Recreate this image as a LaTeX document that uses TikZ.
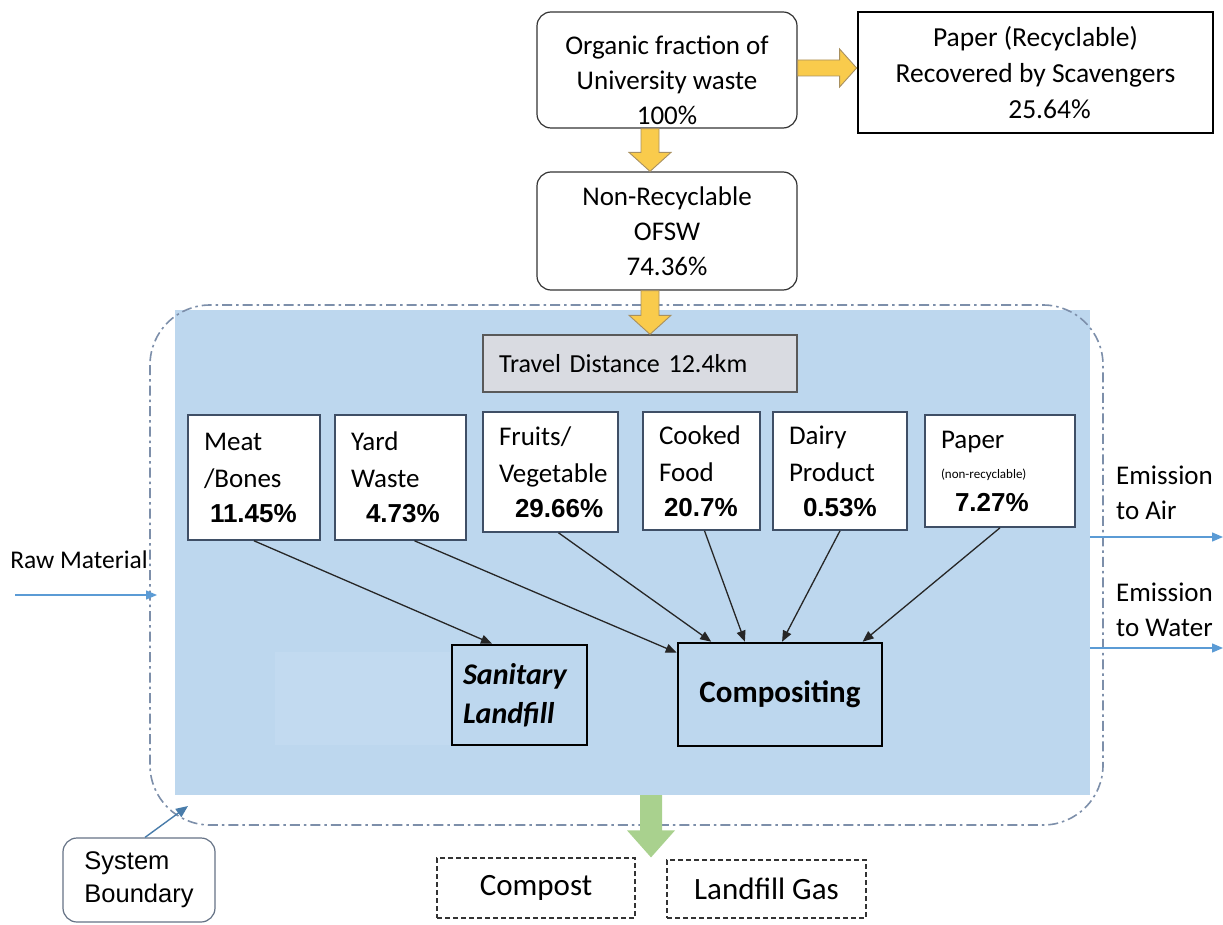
\documentclass[tikz,border=0pt]{standalone}
\usepackage{fontspec}
\setmainfont{Carlito}
\newfontfamily\arialf{Liberation Sans}
\usetikzlibrary{arrows.meta,calc}
\definecolor{zonefill}{HTML}{BDD7EE}
\definecolor{zonepatch}{HTML}{C2DAF0}
\definecolor{catedge}{HTML}{3F4F66}
\definecolor{bounddash}{HTML}{7D8FAA}
\definecolor{flowblue}{HTML}{5B9BD5}
\definecolor{yellowfill}{HTML}{F9CB4C}
\definecolor{yellowedge}{HTML}{A89060}
\definecolor{greenfill}{HTML}{A9D18E}
\definecolor{travelfill}{HTML}{D9DBE1}
\newcommand{\pctfont}{\arialf\bfseries\fontsize{26}{36}\selectfont}
\newcommand{\bodyfont}{\fontsize{27}{35}\selectfont}
\newcommand{\catfont}{\fontsize{27}{37}\selectfont}
\begin{document}
\begin{tikzpicture}[x=1pt,y=-1pt,
  flowbox/.style={draw=black!80, line width=1.2pt, rounded corners=14pt, fill=white,
    align=center, font=\bodyfont, inner sep=0pt},
  catbox/.style={draw=catedge, line width=1.6pt, fill=white, align=left,
    font=\catfont, inner xsep=16pt, inner ysep=0pt},
  procbox/.style={draw=black, line width=2.6pt, align=center, inner sep=0pt},
  outbox/.style={draw=black!80, line width=1.2pt, dashed, dash pattern=on 5pt off 3pt,
    font=\fontsize{31}{36}\selectfont, inner sep=0pt},
  yarrow/.style={fill=yellowfill, draw=yellowedge, line width=0.9pt, line join=miter},
  feed/.style={draw=black!85, line width=1.3pt, -{Triangle[length=11pt,width=9pt]}},
  blueflow/.style={draw=flowblue, line width=1.4pt, -{Triangle[length=11pt,width=9pt]}},
  freetext/.style={font=\bodyfont, align=left, inner sep=0pt}
]
\useasboundingbox (0,0) rectangle (1223,925);

% system zone: shaded area and dash-dot boundary
\fill[zonefill] (175,310) rectangle (1090,795);
\node[minimum width=915pt, minimum height=485pt, inner sep=0pt] (zone) at (632.5,552.5) {};
\fill[zonepatch] (275,652) rectangle (450,745);
\draw[bounddash, line width=1.6pt, dash pattern=on 10pt off 4pt on 2.5pt off 4pt, rounded corners=60pt]
  (150,305) rectangle (1103,825);

% top chain
\node[flowbox, minimum width=260pt, minimum height=116pt] (org) at (667,70)
  {\rule{0pt}{40pt}Organic fraction of\\University waste\\100\%};
\node[draw=black, line width=2.8pt, minimum width=355pt, minimum height=121pt, align=center,
  font=\fontsize{27.5}{36}\selectfont, inner sep=0pt] (paperrec) at (1035.5,72.5)
  {Paper (Recyclable)\\Recovered by Scavengers\\\hspace*{28pt}25.64\%};
\node[flowbox, minimum width=260pt, minimum height=118pt] (nonrec) at (667,231)
  {Non-Recyclable\\OFSW\\74.36\%};
\node[draw=black!65, line width=1.4pt, fill=travelfill, minimum width=314pt, minimum height=57pt,
  font=\fontsize{26}{30}\selectfont, inner xsep=16pt, text width=282pt, align=left] (travel) at (640,363.5)
  {Travel Distance 12.4km};

% yellow block arrows
\path (org.south) ++(-17,0) coordinate (d1s);
\path (nonrec.north) ++(-17,0) coordinate (d1e);
\draw[yarrow] ($(d1s)+(-9,0)$) -- ($(d1e)+(-9,-19)$) -- ($(d1e)+(-21,-19)$) -- (d1e)
  -- ($(d1e)+(21,-19)$) -- ($(d1e)+(9,-19)$) -- ($(d1s)+(9,0)$) -- cycle;
\path (nonrec.south) ++(-17,0) coordinate (d2s);
\path (d2s |- travel.north) coordinate (d2e);
\draw[yarrow] ($(d2s)+(-9,0)$) -- ($(d2e)+(-9,-19)$) -- ($(d2e)+(-21,-19)$) -- (d2e)
  -- ($(d2e)+(21,-19)$) -- ($(d2e)+(9,-19)$) -- ($(d2s)+(9,0)$) -- cycle;
\path (org.east) ++(0,-2) coordinate (r1s);
\path (r1s -| paperrec.west) coordinate (r1e);
\draw[yarrow] ($(r1s)+(0,-8)$) -- ($(r1e)+(-17,-8)$) -- ($(r1e)+(-17,-19)$) -- (r1e)
  -- ($(r1e)+(-17,19)$) -- ($(r1e)+(-17,8)$) -- ($(r1s)+(0,8)$) -- cycle;

% waste categories
\node[catbox, minimum width=132pt, minimum height=125pt, text width=100pt] (meat) at (254,477.5)
  {Meat\\/Bones\\[-2pt]\hspace*{6pt}\pctfont 11.45\%};
\node[catbox, minimum width=131pt, minimum height=125pt, text width=99pt] (yard) at (400.5,477.5)
  {Yard\\Waste\\[-2pt]\hspace*{15pt}\pctfont 4.73\%};
\node[catbox, minimum width=135pt, minimum height=120pt, text width=103pt] (fruit) at (550.5,472)
  {Fruits/\\Vegetable\\[-2pt]\hspace*{16pt}\pctfont 29.66\%};
\node[catbox, minimum width=117pt, minimum height=118pt, text width=85pt] (cooked) at (701.5,471)
  {Cooked\\Food\\[-2pt]\hspace*{5pt}\pctfont 20.7\%};
\node[catbox, minimum width=134pt, minimum height=118pt, text width=102pt] (dairy) at (840,471)
  {Dairy\\Product\\[-2pt]\hspace*{14pt}\pctfont 0.53\%};
\node[catbox, minimum width=150pt, minimum height=112pt, text width=118pt] (papernr) at (1000,471)
  {Paper\\[-7pt]{\fontsize{13}{15}\selectfont (non-recyclable)}\\[-4pt]\hspace*{14pt}\pctfont 7.27\%};

% treatment routes
\node[procbox, minimum width=135pt, minimum height=100pt, font=\bfseries\itshape\fontsize{30}{39}\selectfont,
  text width=113pt, align=left] (landfill) at (519.5,695)
  {Sanitary\\Landfill};
\node[procbox, minimum width=204pt, minimum height=103pt, font=\bfseries\fontsize{31}{36}\selectfont]
  (comp) at (780,694.5) {Compositing};

\draw[feed] (meat.south) -- ($(landfill.north west)!0.3!(landfill.north east)$);
\draw[feed] ($(yard.south)+(14,0)$) -- ($(comp.north west)+(0,11)$);
\draw[feed] ($(fruit.south)+(8,0)$) -- ($(comp.north west)!0.167!(comp.north east)$);
\draw[feed] ($(cooked.south)+(3,0)$) -- ($(comp.north west)!0.33!(comp.north east)$);
\draw[feed] (dairy.south) -- ($(comp.north west)!0.51!(comp.north east)$);
\draw[feed] (papernr.south) -- ($(comp.north west)!0.90!(comp.north east)$);

% inputs and emissions
\node[freetext, font=\fontsize{25.5}{30}\selectfont] (raw) at (79,560) {Raw Material};
\coordinate (rawstart) at (15,595);
\coordinate (rawend) at (157,595);
\draw[blueflow] (rawstart) -- (rawend);

\node[freetext, anchor=west] (eair) at (1116,493) {Emission\\to Air};
\coordinate (airend) at (1223,537);
\draw[blueflow] (zone.east |- airend) -- (airend);

\node[freetext, anchor=west] (ewater) at (1116,610) {Emission\\to Water};
\coordinate (waterend) at (1223,648);
\draw[blueflow] (zone.east |- waterend) -- (waterend);

% outputs
\node[outbox, minimum width=198pt, minimum height=60pt] (compost) at (536,888) {Compost};
\node[outbox, minimum width=199pt, minimum height=58pt] (lgas) at (766.5,889) {Landfill Gas};
\path (zone.south) ++(18.5,0) coordinate (gs);
\coordinate (ge) at (gs |- compost.north);
\fill[greenfill] ($(gs)+(-11,0)$) -- ($(ge)+(-11,-27)$) -- ($(ge)+(-24,-27)$) -- (ge)
  -- ($(ge)+(24,-27)$) -- ($(ge)+(11,-27)$) -- ($(gs)+(11,0)$) -- cycle;

% boundary legend
\node[draw=catedge!80, line width=1.2pt, rounded corners=14pt, minimum width=152pt, minimum height=84pt,
  align=left, font=\arialf\fontsize{25.5}{33}\selectfont, inner sep=0pt] (sysb) at (139,880)
  {System\\Boundary};
\coordinate (bcorner) at (188,806);
\draw[draw=flowblue!80!black, line width=1.4pt, -{Triangle[length=12pt,width=10pt]}]
  ($(sysb.north)+(6,0)$) -- (bcorner);
\end{tikzpicture}
\end{document}
